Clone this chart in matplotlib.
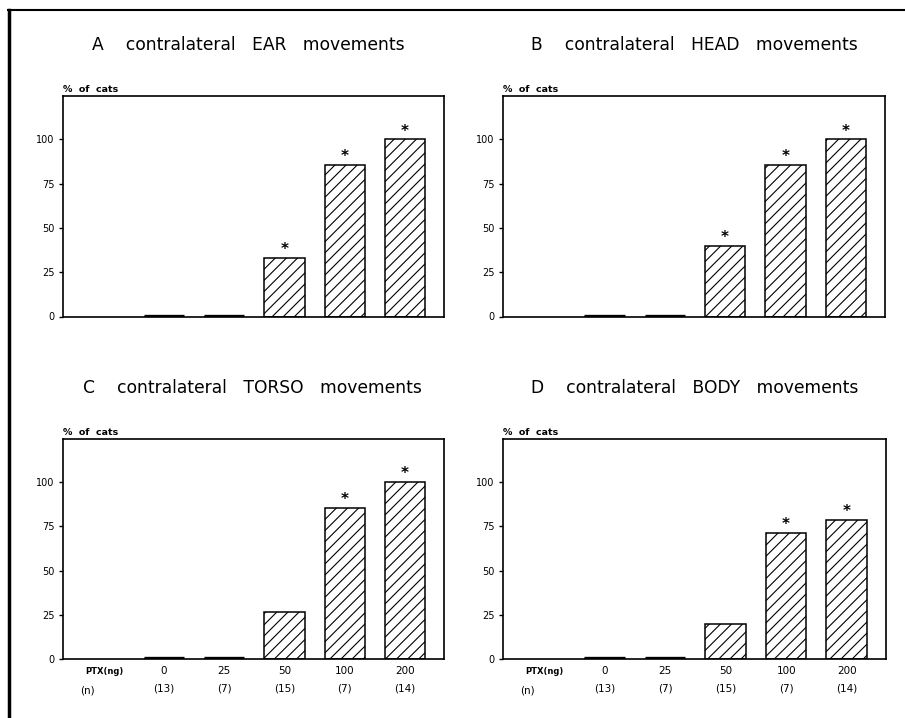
import matplotlib
matplotlib.use("Agg")
import matplotlib.pyplot as plt
from matplotlib.lines import Line2D

plt.rcParams['font.family'] = ['DejaVu Sans']
plt.rcParams['hatch.linewidth'] = 0.8

doses = ["0", "25", "50", "100", "200"]
n_cats = ["(13)", "(7)", "(15)", "(7)", "(14)"]

titles = ["A    contralateral   EAR   movements",
          "B    contralateral   HEAD   movements",
          "C    contralateral   TORSO   movements",
          "D    contralateral   BODY   movements"]

ear = [0, 0, 33.3, 85.7, 100]
head = [0, 0, 40, 85.7, 100]
torso = [0, 0, 26.7, 85.7, 100]
body = [0, 0, 20, 71.4, 78.6]

ear_sig = [False, False, True, True, True]
head_sig = [False, False, True, True, True]
torso_sig = [False, False, False, True, True]
body_sig = [False, False, False, True, True]

yticks = [0, 25, 50, 75, 100]

W, H = 905, 718
fig = plt.figure(figsize=(W / 100, H / 100), dpi=100)

# axes boxes in pixels: left, top, right, bottom(zero line)
boxes = [(63, 96, 444, 316.5), (503, 96, 885, 316.5),
         (63, 439, 444, 659), (503, 439, 886, 659)]
title_pos = [(92, 45), (531, 45), (83, 388), (531, 388)]
series = [(ear, ear_sig), (head, head_sig), (torso, torso_sig), (body, body_sig)]

for i, (box, (vals, sig)) in enumerate(zip(boxes, series)):
    l, t, r, b = box
    ax = fig.add_axes([l / W, 1 - b / H, (r - l) / W, (b - t) / H])
    x = list(range(len(doses)))
    ax.bar(x, vals, width=0.67, color='white', edgecolor='black',
           hatch='///', linewidth=1.1)
    for xi, v in zip(x, vals):
        if v == 0:
            ax.plot([xi - 0.335, xi + 0.335], [0.3, 0.3], color='black', lw=2.4,
                    solid_capstyle='butt')
    for xi, v, s in zip(x, vals, sig):
        if s:
            ax.text(xi, v + 0.5, '*', ha='center', va='bottom', fontsize=11,
                    fontweight='bold')
    ax.set_xlim(-1.68, 4.65)
    ax.set_ylim(0, 124.5)
    ax.set_yticks(yticks)
    ax.set_yticklabels([str(v) for v in yticks], fontsize=7)
    ax.tick_params(axis='y', direction='out', length=3, width=1, pad=3)
    for sp in ax.spines.values():
        sp.set_linewidth(1.2)
    if i >= 2:
        ax.set_xticks(x)
        ax.set_xticklabels([d + "\n" + n for d, n in zip(doses, n_cats)],
                           fontsize=7.5, linespacing=2.0)
        ax.tick_params(axis='x', length=0, pad=5)
        ax.annotate("PTX(ng)", xy=(-1, 0), xycoords=('data', 'axes fraction'),
                    xytext=(0, -6), textcoords='offset points',
                    ha='center', va='top', fontsize=6, fontweight='bold')
        ax.annotate("(n)", xy=(-1.28, 0), xycoords=('data', 'axes fraction'),
                    xytext=(0, -19), textcoords='offset points',
                    ha='center', va='top', fontsize=7.5)
    else:
        ax.set_xticks([])
    ax.text(0, 1.01, "%  of  cats", transform=ax.transAxes, ha='left',
            va='bottom', fontsize=6.8, fontweight='bold')
    tx, ty = title_pos[i]
    fig.text(tx / W, 1 - ty / H, titles[i], ha='left', va='center',
             fontsize=12.3)

# outer frame (left and top edges)
fig.add_artist(Line2D([9 / W, 9 / W], [0, 1 - 10 / H], color='black', lw=2.5,
                      transform=fig.transFigure))
fig.add_artist(Line2D([8 / W, 1], [1 - 10 / H, 1 - 10 / H], color='black', lw=1.5,
                      transform=fig.transFigure))

fig.savefig("out.png", dpi=100)
